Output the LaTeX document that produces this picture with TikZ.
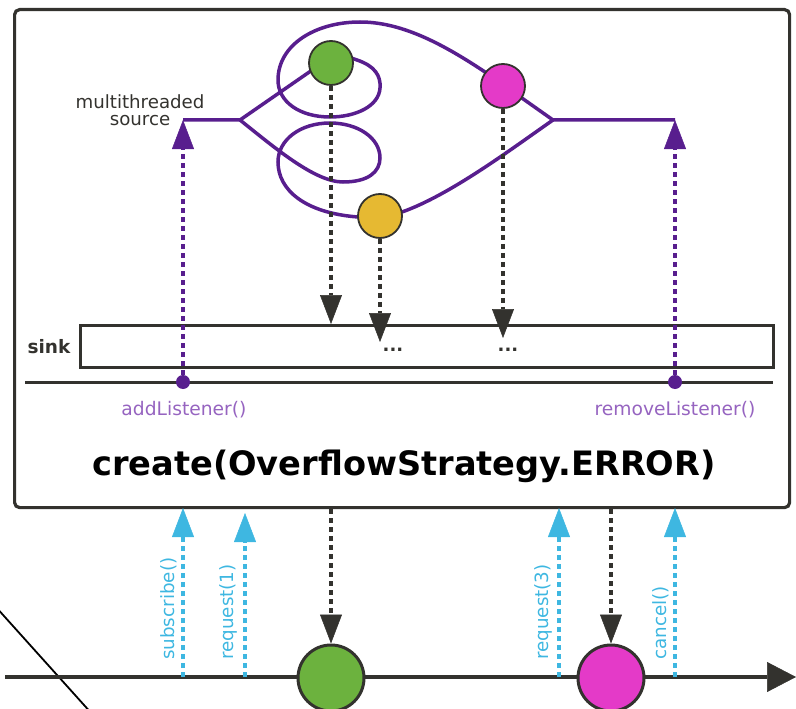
\documentclass[tikz,border=0pt]{standalone}
\usepackage{fontspec}
\setmainfont{DejaVu Sans}
\usetikzlibrary{arrows.meta}
\definecolor{ink}{RGB}{51,50,46}
\definecolor{vio}{RGB}{88,30,142}
\definecolor{lvio}{RGB}{150,100,192}
\definecolor{sky}{RGB}{62,183,225}
\definecolor{grn}{RGB}{108,178,62}
\definecolor{mag}{RGB}{228,58,200}
\definecolor{ylw}{RGB}{230,185,50}
\newcommand{\pxfont}[1]{\fontsize{#1}{#1}\selectfont}
\tikzset{
  tipA/.tip={Triangle[width=22pt,length=29pt,line width=0.5pt]},
  darr/.style={draw=ink, line width=3.2pt, dash pattern=on 5pt off 4pt, -tipA},
  parr/.style={draw=vio, line width=3.2pt, dash pattern=on 5pt off 4pt, -tipA},
  barr/.style={draw=sky, line width=3.2pt, dash pattern=on 5pt off 4pt, -tipA},
  ball/.style={circle, draw=ink, line width=1.8pt, minimum size=44pt, inner sep=0pt},
  bigball/.style={circle, draw=ink, line width=3pt, minimum size=66pt, inner sep=0pt},
  ldot/.style={circle, fill=vio, minimum size=14pt, inner sep=0pt},
  plab/.style={text=lvio, font=\pxfont{18.7}, inner sep=0pt, anchor=base},
  blab/.style={text=sky, font=\pxfont{18.3}, inner sep=0pt, anchor=base west, rotate=90},
  vpath/.style={draw=vio, line width=3.5pt},
}
\begin{document}
\begin{tikzpicture}[x=1pt,y=-1pt]
\useasboundingbox (0,0) rectangle (796,709);

% outer frame
\node[draw=ink, line width=3.2pt, rounded corners=5pt, minimum width=775pt, minimum height=498pt, inner sep=0pt, anchor=north west] (frame) at (13,8) {};

% bottom slash and timeline
\coordinate (s0) at (-5,606);
\coordinate (s1) at (93,715);
\draw[black, line width=1.8pt] (s0) -- (s1);
\coordinate (tl0) at (5,677);
\coordinate (tl1) at (796,677);
\draw[ink, line width=3.2pt, -{Triangle[width=30pt,length=29pt,line width=0.5pt]}] (tl0) -- (tl1);

% purple flow
\coordinate (srcL) at (183,120);
\coordinate (splitL) at (240,120);
\coordinate (splitR) at (553,120);
\coordinate (srcR) at (675,120);
\draw[vpath] (srcL) -- (splitL) -- (318,66) .. controls (335,57) and (348,56) .. (357,60)
  .. controls (375,66) and (381,76) .. (380,88)
  .. controls (379,106) and (356,117) .. (330,117)
  .. controls (300,117) and (278,102) .. (278,80)
  .. controls (278,45) and (315,22) .. (360,22)
  .. controls (400,22) and (440,42) .. (485,72)
  -- (splitR) -- (srcR);
\draw[vpath] (splitL) .. controls (275,148) and (315,182) .. (343,182)
  .. controls (368,182) and (380,172) .. (380,158)
  .. controls (380,138) and (358,123) .. (330,123)
  .. controls (300,123) and (278,140) .. (278,162)
  .. controls (278,190) and (305,213) .. (358,217)
  -- (402,212)
  .. controls (450,195) and (510,150) .. (splitR);

% top circles
\node[ball, fill=grn] (gA) at (331,63) {};
\node[ball, fill=mag] (mA) at (503,86) {};
\node[ball, fill=ylw] (yA) at (380,216) {};

% sink
\node[draw=ink, line width=3pt, minimum width=693pt, minimum height=42pt, inner sep=0pt, anchor=north west] (sink) at (79,324) {};
\node[font=\bfseries\pxfont{18.5}, text=ink, inner sep=0pt, anchor=base] (sinklab) at (49,353) {sink};
\coordinate (hl0) at (25,382);
\coordinate (hl1) at (773,382);
\draw[ink, line width=3pt] (hl0) -- (hl1);

% dashed arrows into sink
\coordinate (yT) at (380,342);
\coordinate (mT) at (503,338);
\draw[darr] (gA.south) -- (gA.south |- sink.north);
\draw[darr] (yA.south) -- (yT);
\draw[darr] (mA.south) -- (mT);
\node[text=ink, font=\bfseries\pxfont{18}, inner sep=0pt, anchor=base] (dots1) at (393,351) {...};
\node[text=ink, font=\bfseries\pxfont{18}, inner sep=0pt, anchor=base] (dots2) at (508,351) {...};

% listeners
\node[ldot] (dA) at (183,382) {};
\node[ldot] (dR) at (675,382) {};
\draw[parr] (dA) -- (srcL);
\draw[parr] (dR) -- (srcR);
\node[plab] (addl) at (184,415) {addListener()};
\node[plab] (reml) at (675,415) {removeListener()};

% source label
\node[text=ink, font=\pxfont{18.2}, align=center, inner sep=0pt, anchor=center] (srclab) at (140,110.5) {multithreaded\\[-1.5pt]source};

% title
\node[font=\bfseries\pxfont{33.6}, text=black, inner sep=0pt, anchor=base] (title) at (404,475) {create(OverflowStrategy.ERROR)};

% bottom circles
\node[bigball, fill=grn] (gB) at (331,678) {};
\node[bigball, fill=mag] (mB) at (611,678) {};
\draw[darr] (frame.south -| gB.north) -- (gB.north);
\draw[darr] (frame.south -| mB.north) -- (mB.north);

% blue request arrows
\coordinate (b1s) at (183,677); \coordinate (b1t) at (183,508);
\coordinate (b2s) at (245,677); \coordinate (b2t) at (245,513);
\coordinate (b3s) at (559,677); \coordinate (b3t) at (559,508);
\coordinate (b4s) at (675,677); \coordinate (b4t) at (675,508);
\draw[barr] (b1s) -- (b1t);
\draw[barr] (b2s) -- (b2t);
\draw[barr] (b3s) -- (b3t);
\draw[barr] (b4s) -- (b4t);
\node[blab] (l1) at (174,660) {subscribe()};
\node[blab] (l2) at (233,660) {request(1)};
\node[blab] (l3) at (548,660) {request(3)};
\node[blab] (l4) at (666,660) {cancel()};
\end{tikzpicture}
\end{document}
